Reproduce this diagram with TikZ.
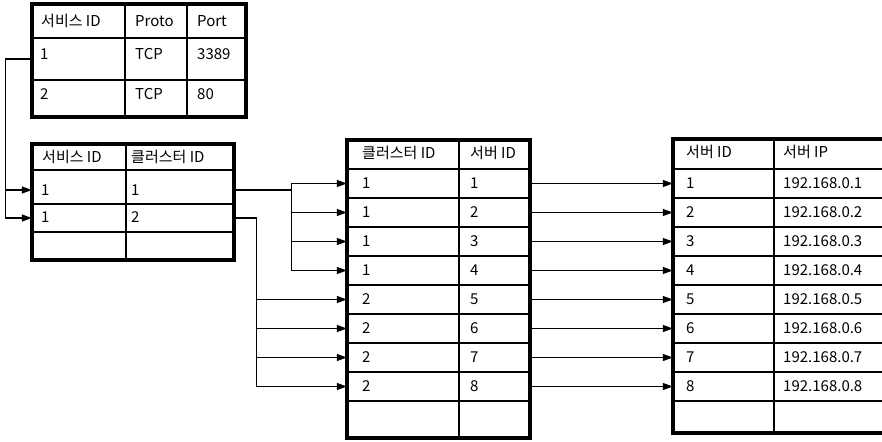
\documentclass[tikz,border=0pt]{standalone}
\usepackage{fontspec}
\setmainfont{Noto Sans CJK KR}
\usetikzlibrary{arrows.meta}
\tikzset{
  tbl/.style={line width=4pt},
  grid/.style={line width=1.3pt},
  rowbox/.style={inner sep=0pt, minimum height=26pt},
  cell/.style={anchor=west, inner sep=0pt, text height=10.8pt, text depth=0pt, font=\fontsize{15}{15}\selectfont},
  link/.style={line width=1.3pt, -{Triangle[length=10pt,width=7pt]}}
}
\begin{document}
\begin{tikzpicture}[x=1pt, y=-1pt]
\useasboundingbox (0,0) rectangle (882,441);
\clip (0,0) rectangle (882,441);
\fill[white] (0,0) rectangle (882,441);
% service table
\draw[tbl] (32,4) rectangle (246,117);
\draw[grid] (32,38) -- (246,38) (32,80) -- (246,80) (125,4) -- (125,117) (187,4) -- (187,117);
\node[cell] (ph1) at (41,21) {서비스 ID};
\node[cell] (ph2) at (135,21) {Proto};
\node[cell] (ph3) at (197,21) {Port};
\node[rowbox, minimum width=214pt] (p1) at (139,59) {};
\node[rowbox, minimum width=214pt] (p2) at (139,98) {};
\node[cell] (pa1) at (40,54) {1};
\node[cell] (pb1) at (135,54) {TCP};
\node[cell] (pc1) at (197,54) {3389};
\node[cell] (pa2) at (40,94) {2};
\node[cell] (pb2) at (135,94) {TCP};
\node[cell] (pc2) at (197,94) {80};
% service / cluster table
\draw[tbl] (32,144) rectangle (234,260);
\draw[grid] (32,170) -- (234,170) (32,204) -- (234,204) (32,232) -- (234,232) (126,144) -- (126,260);
\node[cell] (mh1) at (42,157) {서비스 ID};
\node[cell] (mh2) at (131,157) {클러스터 ID};
\node[rowbox, minimum width=202pt] (m1) at (133,190) {};
\node[rowbox, minimum width=202pt] (m2) at (133,218) {};
\node[cell] (ma1) at (41,190) {1};
\node[cell] (mb1) at (131,190) {1};
\node[cell] (ma2) at (41,217) {1};
\node[cell] (mb2) at (131,217) {2};
% cluster / server table
\draw[tbl] (347,140) rectangle (530,438);
\draw[grid] (459,140) -- (459,438);
\foreach \k in {0,...,8}
  \draw[grid] (347,169+29*\k) -- (530,169+29*\k);
\node[cell] (ch1) at (362,153) {클러스터 ID};
\node[cell] (ch2) at (470,153) {서버 ID};
% server table
\draw[tbl] (673,139) rectangle (900,433);
\draw[grid] (774,139) -- (774,433);
\foreach \k in {0,...,8}
  \draw[grid] (673,169+29*\k) -- (900,169+29*\k);
\node[cell] (sh1) at (686,152) {서버 ID};
\node[cell] (sh2) at (783,152) {서버 IP};
% rows
\foreach \i/\c in {1/1,2/1,3/1,4/1,5/2,6/2,7/2,8/2} {
  \pgfmathsetmacro\yy{183.5+29*(\i-1)}
  \node[rowbox, minimum width=183pt] (c\i) at (438.5,\yy) {};
  \node[cell] (ca\i) at (362,\yy) {\c};
  \node[cell] (cb\i) at (470,\yy) {\i};
  \node[rowbox, minimum width=227pt] (s\i) at (786.5,\yy) {};
  \node[cell] (sa\i) at (686,\yy) {\i};
  \node[cell] (sb\i) at (783,\yy) {192.168.0.\i};
}
% links
\draw[link] (p1.west) -- ++(-26,0) |- (m1.west);
\draw[link] (p1.west) -- ++(-26,0) |- (m2.west);
\foreach \i in {1,...,4}
  \draw[link] (m1.east) -- ++(57,0) |- (c\i.west);
\foreach \i in {5,...,8}
  \draw[link] (m2.east) -- ++(22,0) |- (c\i.west);
\foreach \i in {1,...,8}
  \draw[link] (c\i.east) -- (s\i.west);
\end{tikzpicture}
\end{document}
